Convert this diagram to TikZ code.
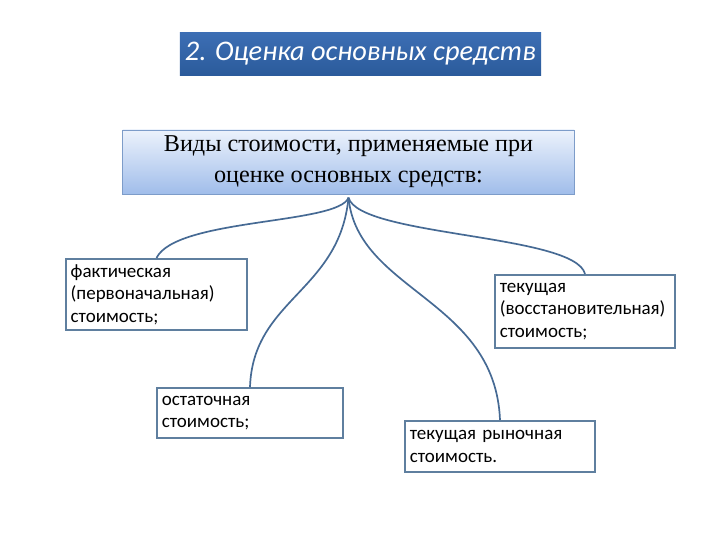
\documentclass[tikz,border=0pt]{standalone}
\usepackage{fontspec}
\setmainfont{Liberation Serif}
\newfontfamily\calibri{Carlito}
\usetikzlibrary{positioning}
\definecolor{osblue}{RGB}{43,91,155}
\definecolor{osbluetop}{RGB}{60,110,180}
\definecolor{oslight}{RGB}{236,242,252}
\definecolor{osmid}{RGB}{160,189,234}
\definecolor{osedge}{RGB}{125,156,201}
\definecolor{osframe}{RGB}{95,127,159}
\definecolor{oslink}{RGB}{70,106,148}

\begin{document}
\begin{tikzpicture}[x=0.025cm,y=-0.025cm,
  valbox/.style={draw=osframe,line width=1.4pt,fill=white,inner xsep=0.12cm,
    align=left,font=\calibri\fontsize{13.5}{16}\selectfont},
  link/.style={oslink,line width=1.2pt}]
\useasboundingbox[fill=white] (0,0) rectangle (720,540);
\node[fill=osblue,top color=osbluetop,bottom color=osblue,minimum width=9.03cm,
  minimum height=1.05cm,text=white,font=\calibri\itshape\fontsize{20.2}{23}\selectfont]
  (title) at (360.5,54) {2. Оценка основных средств};
\node[draw=osedge,line width=0.6pt,top color=oslight,bottom color=osmid,
  minimum width=11.28cm,minimum height=1.6cm,align=center,
  font=\fontsize{17.2}{22}\selectfont]
  (kinds) at (348.5,162) {Виды стоимости, применяемые при\\оценке основных средств:};
\node[valbox,text width=4.29cm,minimum height=1.78cm] (actual) at (156.5,294.5)
  {фактическая\\(первоначальная)\\стоимость;};
\node[valbox,text width=4.41cm,minimum height=1.25cm] (residual) at (250,413)
  {остаточная\\стоимость;};
\node[valbox,text width=4.26cm,minimum height=1.83cm] (current) at (585,311.5)
  {текущая\\(восстановительная)\\стоимость;};
\node[valbox,text width=4.51cm,minimum height=1.28cm] (market) at (500,446.5)
  {текущая рыночная\\стоимость.};
\coordinate (root) at ([yshift=-0.08cm]kinds.south);
\draw[link] (root) .. controls +(-10,27) and +(20,-40) .. (actual.north);
\draw[link] (root) .. controls +(-9,94) and +(3,-88) .. (residual.north);
\draw[link] (root) .. controls +(11,39) and +(-10,-40) .. (current.north);
\draw[link] (root) .. controls +(9,94) and +(-5,-121) .. (market.north);
\end{tikzpicture}
\end{document}
